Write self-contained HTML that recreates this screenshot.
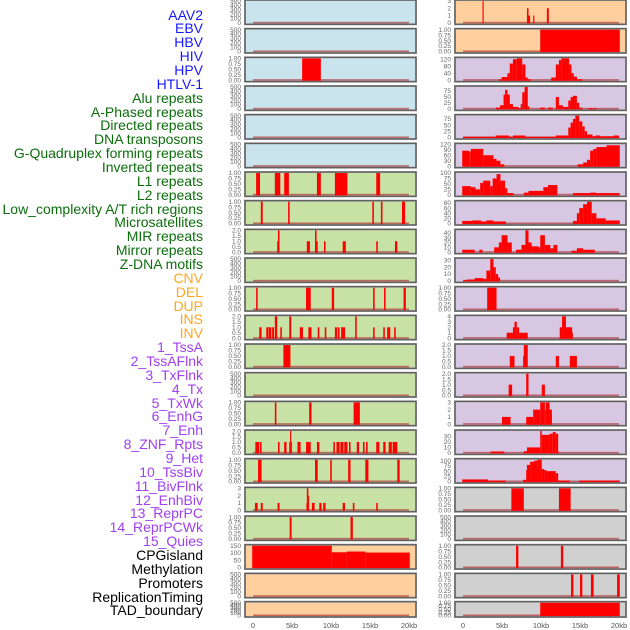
<!DOCTYPE html>
<html><head><meta charset="utf-8"><style>
html,body{margin:0;padding:0;background:#fff;}
#wrap{position:relative;width:630px;height:630px;overflow:hidden;}
.lab{position:absolute;right:427px;font-family:"Liberation Sans",sans-serif;font-size:14px;line-height:14px;white-space:nowrap;text-align:right;}
svg{position:absolute;left:0;top:0;}
</style></head><body>
<div id="wrap">
<svg id="chart" width="630" height="630"></svg>
</div>
<script>
const trackLabels = ["AAV2","EBV","HBV","HIV","HPV","HTLV-1","Alu repeats","A-Phased repeats","Directed repeats","DNA transposons","G-Quadruplex forming repeats","Inverted repeats","L1 repeats","L2 repeats","Low_complexity A/T rich regions","Microsatellites","MIR repeats","Mirror repeats","Z-DNA motifs","CNV","DEL","DUP","INS","INV","1_TssA","2_TssAFlnk","3_TxFlnk","4_Tx","5_TxWk","6_EnhG","7_Enh","8_ZNF_Rpts","9_Het","10_TssBiv","11_BivFlnk","12_EnhBiv","13_ReprPC","14_ReprPCWk","15_Quies","CPGisland","Methylation","Promoters","ReplicationTiming","TAD_boundary"];
const labelColors = ["#1818ff","#1818ff","#1818ff","#1818ff","#1818ff","#1818ff","#0b6e0b","#0b6e0b","#0b6e0b","#0b6e0b","#0b6e0b","#0b6e0b","#0b6e0b","#0b6e0b","#0b6e0b","#0b6e0b","#0b6e0b","#0b6e0b","#0b6e0b","#ffa520","#ffa520","#ffa520","#ffa520","#ffa520","#a040f0","#a040f0","#a040f0","#a040f0","#a040f0","#a040f0","#a040f0","#a040f0","#a040f0","#a040f0","#a040f0","#a040f0","#a040f0","#a040f0","#a040f0","#000","#000","#000","#000","#000"];
const panelBg = ["#c9e4ec","#c9e4ec","#c9e4ec","#c9e4ec","#c9e4ec","#c9e4ec","#c8e1a5","#c8e1a5","#c8e1a5","#c8e1a5","#c8e1a5","#c8e1a5","#c8e1a5","#c8e1a5","#c8e1a5","#c8e1a5","#c8e1a5","#c8e1a5","#c8e1a5","#ffd09e","#ffd09e","#ffd09e",
"#ffd09e","#ffd09e","#d7c7e3","#d7c7e3","#d7c7e3","#d7c7e3","#d7c7e3","#d7c7e3","#d7c7e3","#d7c7e3","#d7c7e3","#d7c7e3","#d7c7e3","#d7c7e3","#d7c7e3","#d7c7e3","#d7c7e3","#d0d0d0","#d0d0d0","#d0d0d0","#d0d0d0","#d0d0d0"];
const E = [0,100,200,300,400,500];
const U = [0,0.25,0.5,0.75,1];
const trackTicks = [E,E,U,E,E,E,U,U,[0,0.5,1,1.5,2],E,U,[0,0.5,1,1.5,2],U,E,U,[0,0.5,1,1.5,2],U,[0,1,2,3],U,[0,50,100,150],E,E,
[0,1,2,3],U,[0,40,80,120],[0,25,50,75],[0,25,50,75],[0,30,60,90,120],[0,25,50,75,100],[0,20,40,60,80],[0,10,20,30,40],[0,10,20,30],U,[0,1,2,3,4],[0,0.5,1,1.5,2],[0,0.5,1,1.5,2],[0,1,2,3],[0,10,20,30],[0,25,50,75,100],U,E,U,U,U];
const trackMax = [500,500,1,500,500,500,1,1,2,500,1,2,1,500,1,2,1,3,1,150,500,500,
3,1,125,92,88,120,100,85,45,32,1,4,2,2,3,40,105,1,500,1,1,1];
const tickFmt = [0,0,2,0,0,0,2,2,1,0,2,1,2,0,2,1,2,0,2,0,0,0,0,2,0,0,0,0,0,0,0,0,2,0,1,1,0,0,0,2,0,2,2,2];
// segments: [startKb, endKb, value]
const trackBars = [
[],[],[[6.3,8.7,1]],[],[],[],
[[0.4,0.9,1],[2.8,3.5,1],[4.0,4.6,1],[8.2,8.7,1],[10.5,12.1,1],[15.8,16.3,1]],
[[1.0,1.25,1],[4.5,4.7,1],[15.3,15.5,1],[16.4,16.6,1],[19.1,19.5,1]],
[[3.1,3.2,1],[3.2,3.4,2],[6.9,7.3,1],[7.95,8.15,2],[8.15,8.3,1],[9.1,9.3,1],[11.5,11.9,1],[15.8,16.0,1],[18.2,18.5,1]],
[],
[[0.4,0.6,1],[6.8,7.4,1],[10.1,10.4,1],[15.4,15.6,1],[16.8,17.0,1],[19.3,19.6,1]],
[[0.8,1.1,1],[1.7,2.0,1],[2.05,2.35,1],[2.45,2.7,1],[2.8,3.1,2],[3.5,3.7,1],[4.65,4.9,2],[6.0,6.4,1],[7.1,7.5,1],[8.3,8.5,1],[9.2,9.4,1],[10.5,10.8,1],[10.9,11.1,1],[11.3,11.8,1],[13.1,13.3,2],[15.4,15.6,1],[16.7,16.9,1],[17.2,17.6,1],[18.1,18.3,1]],
[[3.9,4.8,1]],
[],
[[2.8,3.0,1],[7.2,7.5,1],[12.9,13.7,1]],
[[0.3,0.8,1],[0.9,1.1,1],[3.2,3.4,1],[4.0,4.3,1],[4.65,4.75,1],[4.75,4.9,2],[4.9,5.0,1],[5.7,6.1,1],[6.8,7.4,1],[8.2,8.5,1],[10.3,10.5,1],[10.7,11.1,1],[11.2,11.6,1],[11.7,12.1,1],[12.3,12.5,1],[13.3,13.6,1],[14.1,14.3,1],[14.5,14.7,1],[15.8,16.2,1],[16.7,17.0,1],[17.4,17.8,1],[17.9,18.5,1]],
[[0.65,1.1,1],[7.95,8.3,1],[9.9,10.1,1],[12.2,12.5,1],[14.4,14.8,1],[18.5,18.8,1]],
[[0.25,0.6,1],[1.0,1.25,1],[3.15,3.4,1],[6.85,6.9,1],[6.9,7.1,3],[7.1,7.2,2],[7.55,7.9,1],[8.5,8.8,1],[9.0,9.3,1],[11.5,11.8,1],[12.8,13.0,1],[15.8,16.0,1]],
[[4.7,4.95,1],[12.5,12.8,1]],
[[-0.1,10.1,150],[10.1,12.0,105],[12.0,14.4,110],[14.4,20.1,103]],
[],[],
// right column
[[2.5,2.65,3],[8.2,8.4,2],[8.4,8.6,1],[9.0,9.15,1],[10.75,11.0,2]],
[[9.9,20.1,1]],
[[4.6,4.95,5],[4.95,5.7,18],[5.7,6.0,40],[6.0,6.4,95],[6.4,6.9,120],[6.9,7.6,125],[7.6,8.0,90],[8.0,8.3,15],[8.3,8.7,5],[11.3,11.9,15],[11.9,12.3,90],[12.3,12.6,115],[12.6,13.6,125],[13.6,13.9,90],[13.9,14.2,40],[14.2,14.6,20],[14.6,15.3,5]],
[[4.2,4.75,5],[4.75,5.2,15],[5.2,5.4,60],[5.4,5.7,80],[5.7,6.0,60],[6.0,6.4,20],[6.4,7.1,8],[7.1,7.4,3],[7.4,7.6,20],[7.6,7.9,70],[7.9,8.3,92],[8.3,8.5,10],[9.9,10.5,5],[10.9,11.5,5],[11.9,12.3,50],[12.3,12.8,15],[12.8,13.5,8],[13.5,13.8,35],[13.8,14.1,50],[14.1,14.6,55],[14.6,14.9,25],[14.9,15.3,5],[16.1,16.6,3],[16.7,17.1,3]],
[[0,4.2,3],[4.2,5.9,8],[5.9,6.4,3],[6.4,8.0,8],[8.0,11.9,3],[11.9,13.5,8],[13.5,13.8,40],[13.8,14.1,60],[14.1,14.4,75],[14.4,14.9,88],[14.9,15.3,65],[15.3,15.6,45],[15.6,15.9,25],[15.9,16.6,12],[16.6,17.0,5],[17.0,17.6,8],[17.6,19.3,5],[19.3,20.0,8]],
[[-0.1,0.8,85],[0.8,1.0,80],[1.0,2.6,95],[2.6,3.9,60],[3.9,4.3,40],[4.3,4.8,30],[4.8,5.3,10],[14.7,15.4,10],[15.4,15.9,20],[15.9,16.3,35],[16.3,16.7,85],[16.7,17.1,95],[17.1,18.4,105],[18.4,20.1,115]],
[[-0.1,1.0,40],[1.0,1.6,35],[1.6,2.2,25],[2.2,2.6,55],[2.6,3.5,65],[3.5,3.8,40],[3.8,4.3,75],[4.3,4.8,95],[4.8,5.4,65],[5.4,5.7,30],[5.7,6.5,8],[7.8,8.4,10],[8.4,10.3,18],[10.3,10.9,35],[10.9,12.1,45],[14.1,16.3,8],[16.3,17.1,10],[17.1,20.1,8]],
[[-0.1,1.2,10],[1.2,2.3,12],[2.3,3.0,8],[3.0,3.9,12],[3.9,4.5,8],[4.5,5.5,8],[14.1,14.6,10],[14.6,14.9,40],[14.9,15.4,60],[15.4,15.9,75],[15.9,16.5,85],[16.5,17.1,40],[17.1,18.3,20],[18.3,19.3,12],[19.3,20.1,12]],
[[-0.1,1.5,5],[2.1,2.5,5],[4.0,4.6,10],[4.6,4.95,20],[4.95,5.7,35],[5.7,6.25,20],[6.8,7.5,5],[7.5,8.0,15],[8.0,8.4,45],[8.4,8.8,20],[8.8,9.7,12],[9.7,9.9,10],[9.9,10.5,35],[10.5,11.2,15],[11.2,11.6,8],[11.6,12.1,15],[13.9,14.6,3],[14.6,15.4,8],[15.4,16.9,5]],
[[0.05,0.5,1],[0.5,1.5,2],[1.5,2.6,4],[2.6,3.0,3],[3.0,3.5,15],[3.5,3.9,32],[3.9,4.2,20],[4.2,4.5,10],[4.5,4.75,5]],
[[3.1,4.3,1]],
[[5.6,6.4,1],[6.4,6.6,2],[6.6,6.9,3],[6.9,7.2,2],[7.2,8.3,1],[12.4,12.7,2],[12.7,13.2,4],[13.2,14.0,2],[14.0,14.1,1]],
[[6.0,6.6,1],[7.7,7.8,1],[7.8,8.3,2],[11.9,12.3,1],[13.7,14.6,1]],
[[5.85,6.3,1],[8.1,8.4,2],[10.1,10.5,1]],
[[5.0,6.1,1],[8.1,9.0,1],[9.0,9.9,2],[9.9,10.5,3],[10.5,10.6,2],[10.6,11.1,3],[11.1,11.4,2]],
[[3.5,5.3,2.5],[7.8,8.2,3],[8.2,9.9,10],[9.9,10.1,40],[10.1,11.1,33],[11.1,11.5,35],[11.5,11.9,38],[11.9,12.2,35],[12.2,12.3,2]],
[[-0.1,3.2,10],[3.2,5.5,5],[7.7,8.1,8],[8.1,8.2,55],[8.2,8.6,80],[8.6,9.1,95],[9.1,9.5,100],[9.5,10.1,105],[10.1,10.4,60],[10.4,10.7,55],[10.7,11.9,50],[11.9,12.2,40],[12.2,13.7,5],[14.9,20.1,5]],
[[6.2,7.8,1],[12.3,13.8,1]],
[],
[[6.8,7.1,1],[12.55,12.85,1]],
[[13.85,14.15,1],[15.0,15.3,1],[16.4,16.75,1],[19.75,20.1,1]],
[[9.9,20.1,1]]
];
const xTickValues = [0,5,10,15,20];
const xTickLabels = ["0","5kb","10kb","15kb","20kb"];

const NS = "http://www.w3.org/2000/svg";
const svg = document.getElementById('chart');
const wrap = document.getElementById('wrap');
function mk(tag, attrs, parent){const e=document.createElementNS(NS,tag);for(const k in attrs)e.setAttribute(k,attrs[k]);(parent||svg).appendChild(e);return e;}
const colX = [245, 455];
const panelW = 171;
function xScale(col, kb){return colX[col] + 8 + kb*7.8;}
function rowTop(r){return r===21 ? 601.7 : r*28.67;}
function rowH(r){return r===21 ? 15.3 : 24.3;}

// labels
trackLabels.forEach((t,i)=>{
  const d=document.createElement('div');
  d.className='lab';
  d.textContent=t;
  d.style.top=(15+i*13.86-7.5)+'px';
  d.style.color=labelColors[i];
  
  
  wrap.appendChild(d);
});

trackBars.forEach((bars,i)=>{
  const col = i<22?0:1, r = i%22;
  const top=rowTop(r), h=rowH(r), x0=colX[col];
  const max=trackMax[i];
  const yS = v => top+1 + (1-v/max)*(h-2.5);
  const g = mk('g',{});
  
  
  const bg = mk('rect',{x:x0,y:top,width:panelW,height:h,fill:panelBg[i],stroke:'#999','stroke-width':2},g);
  
  
  mk('rect',{x:x0,y:top,width:panelW,height:h,fill:'none',stroke:'#555','stroke-width':1},g);
  const base = mk('rect',{x:xScale(col,0),y:yS(0)-1,width:xScale(col,20)-xScale(col,0),height:1.6,fill:'rgba(170,30,30,0.6)'},g);
  
  
  bars.forEach(b=>{
    const xa=Math.max(x0+1,xScale(col,b[0])), xb=Math.min(x0+panelW-1,xScale(col,b[1]));
    const y=yS(b[2]);
    const rc = mk('rect',{x:xa,y:y,width:Math.max(0.8,xb-xa),height:Math.max(0,yS(0)-y+0.6),fill:'#ff0000'},g);
    
    
  });
  trackTicks[i].forEach(tv=>{
    const tx = mk('text',{x:x0-4,y:yS(tv)+2.2,'text-anchor':'end','font-family':'Liberation Sans, sans-serif','font-size':6.5,fill:'#666'},g);
    tx.textContent = tv.toFixed(tickFmt[i]);
    
    
  });
});

[0,1].forEach(col=>{
  xTickValues.forEach((v,j)=>{
    const t = mk('text',{x:xScale(col,v),y:628,'text-anchor':'middle','font-family':'Liberation Sans, sans-serif','font-size':7.5,fill:'#555'});
    t.textContent = xTickLabels[j];
    
    
  });
});
</script>
</body></html>
